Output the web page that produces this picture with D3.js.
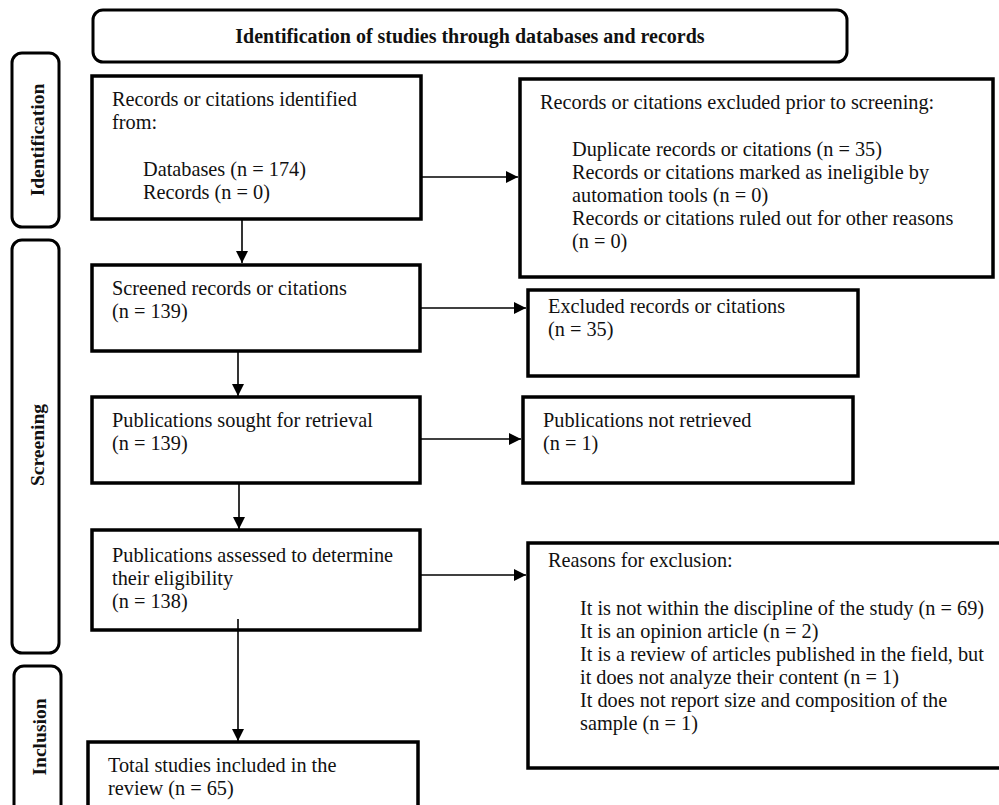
<!DOCTYPE html>
<html>
<head>
<meta charset="utf-8">
<script src="https://cdn.jsdelivr.net/npm/d3@7"></script>
<style>
  body { margin: 0; background: #fff; }
  text { font-family: "Liberation Serif", "Times New Roman", serif; fill: #111; }
</style>
</head>
<body>
<script>
// flow data
var headerTitle = "Identification of studies through databases and records";
var phaseLabels = ["Identification", "Screening", "Inclusion"];

var identifiedHead = ["Records or citations identified", "from:"];
var identifiedItems = ["Databases (n = 174)", "Records (n = 0)"];
var excludedPriorHead = ["Records or citations excluded prior to screening:"];
var excludedPriorItems = ["Duplicate records or citations (n = 35)",
  "Records or citations marked as ineligible  by", "automation tools (n = 0)",
  "Records or citations ruled out for other reasons", "(n = 0)"];
var screenedText = ["Screened records or citations", "(n = 139)"];
var excludedText = ["Excluded records or citations", "(n = 35)"];
var soughtText = ["Publications sought for retrieval", "(n = 139)"];
var notRetrievedText = ["Publications not retrieved", "(n = 1)"];
var assessedText = ["Publications assessed to determine", "their eligibility", "(n = 138)"];
var reasonsHead = ["Reasons for exclusion:"];
var reasonsItems = ["It is not within the discipline of the study (n = 69)",
  "It is an opinion article (n = 2)",
  "It is a review of articles published in the field, but",
  "it does not analyze their content (n = 1)",
  "It does not report size and composition of the",
  "sample (n = 1)"];
var includedText = ["Total studies included in the", "review (n = 65)"];

var W = 999, H = 805, LH = 23, FS = 20.3;

var svg = d3.select("body").append("svg")
    .attr("width", W).attr("height", H);

var defs = svg.append("defs");
defs.append("marker")
    .attr("id", "arr")
    .attr("viewBox", "0 0 10 10")
    .attr("refX", 10).attr("refY", 5)
    .attr("markerWidth", 13).attr("markerHeight", 12)
    .attr("markerUnits", "userSpaceOnUse")
    .attr("orient", "auto")
  .append("path").attr("d", "M0,0 L10,5 L0,10 z").attr("fill", "#000");

// layout of boxes (px)
var boxes = [
  {x: 92, y: 76, w: 329, h: 143, head: identifiedHead, items: identifiedItems, tx: 112, ty: 106, ix: 143, iy: 176},
  {x: 520, y: 79, w: 473, h: 198, head: excludedPriorHead, items: excludedPriorItems, tx: 540, ty: 109, ix: 572, iy: 156},
  {x: 92, y: 265, w: 328, h: 86, head: screenedText, items: [], tx: 112, ty: 295},
  {x: 528, y: 290, w: 330, h: 86, head: excludedText, items: [], tx: 548, ty: 313},
  {x: 92, y: 397, w: 328, h: 86, head: soughtText, items: [], tx: 112, ty: 427},
  {x: 523, y: 397, w: 330, h: 86, head: notRetrievedText, items: [], tx: 543, ty: 427},
  {x: 92, y: 530, w: 328, h: 100, head: assessedText, items: [], tx: 112, ty: 562},
  {x: 528, y: 543, w: 480, h: 225, head: reasonsHead, items: reasonsItems, tx: 548, ty: 567, ix: 580, iy: 615},
  {x: 88, y: 742, w: 330, h: 100, head: includedText, items: [], tx: 108, ty: 772}
];

var phaseBoxes = [
  {x: 12, y: 53, w: 47, h: 174, cy: 140},
  {x: 12, y: 240, w: 47, h: 413, cy: 445},
  {x: 14, y: 666, w: 47, h: 170, cy: 737}
];

// header
svg.append("rect")
    .attr("x", 93).attr("y", 10).attr("width", 754).attr("height", 52)
    .attr("rx", 10).attr("fill", "none").attr("stroke", "#000").attr("stroke-width", 3);
svg.append("text")
    .attr("x", 470).attr("y", 43)
    .attr("text-anchor", "middle")
    .style("font-size", "20px").style("font-weight", "bold")
    .text(headerTitle);

// phase side labels
var ph = svg.selectAll("g.phase").data(phaseBoxes).enter().append("g").attr("class", "phase");
ph.append("rect")
    .attr("x", function(d) { return d.x; }).attr("y", function(d) { return d.y; })
    .attr("width", function(d) { return d.w; }).attr("height", function(d) { return d.h; })
    .attr("rx", 10).attr("fill", "none").attr("stroke", "#000").attr("stroke-width", 3);
ph.append("text")
    .attr("transform", function(d) {
      return "translate(" + (d.x + 32) + "," + d.cy + ") rotate(-90)";
    })
    .attr("text-anchor", "middle")
    .style("font-size", "19.5px").style("font-weight", "bold")
    .text(function(d, i) { return phaseLabels[i]; });

// boxes
var bx = svg.selectAll("g.box").data(boxes).enter().append("g").attr("class", "box");
bx.append("rect")
    .attr("x", function(d) { return d.x; }).attr("y", function(d) { return d.y; })
    .attr("width", function(d) { return d.w; }).attr("height", function(d) { return d.h; })
    .attr("fill", "#fff").attr("stroke", "#000").attr("stroke-width", 3.5);
bx.each(function(d) {
  var g = d3.select(this);
  d.head.forEach(function(t, i) {
    g.append("text").attr("x", d.tx).attr("y", d.ty + i * LH)
      .style("font-size", FS + "px").text(t);
  });
  d.items.forEach(function(t, i) {
    g.append("text").attr("x", d.ix).attr("y", d.iy + i * LH)
      .style("font-size", FS + "px").text(t);
  });
});

// connectors
var arrows = [
  [[421, 177], [518, 177]],
  [[242, 219], [242, 263]],
  [[420, 308], [526, 308]],
  [[238, 351], [238, 396]],
  [[420, 439], [521, 439]],
  [[239, 483], [239, 529]],
  [[420, 575], [526, 575]],
  [[238, 619], [238, 741]]
];
svg.selectAll("path.link").data(arrows).enter().append("path")
    .attr("class", "link")
    .attr("d", d3.line())
    .attr("fill", "none").attr("stroke", "#000").attr("stroke-width", 1.6)
    .attr("marker-end", "url(#arr)");
</script>
</body>
</html>
